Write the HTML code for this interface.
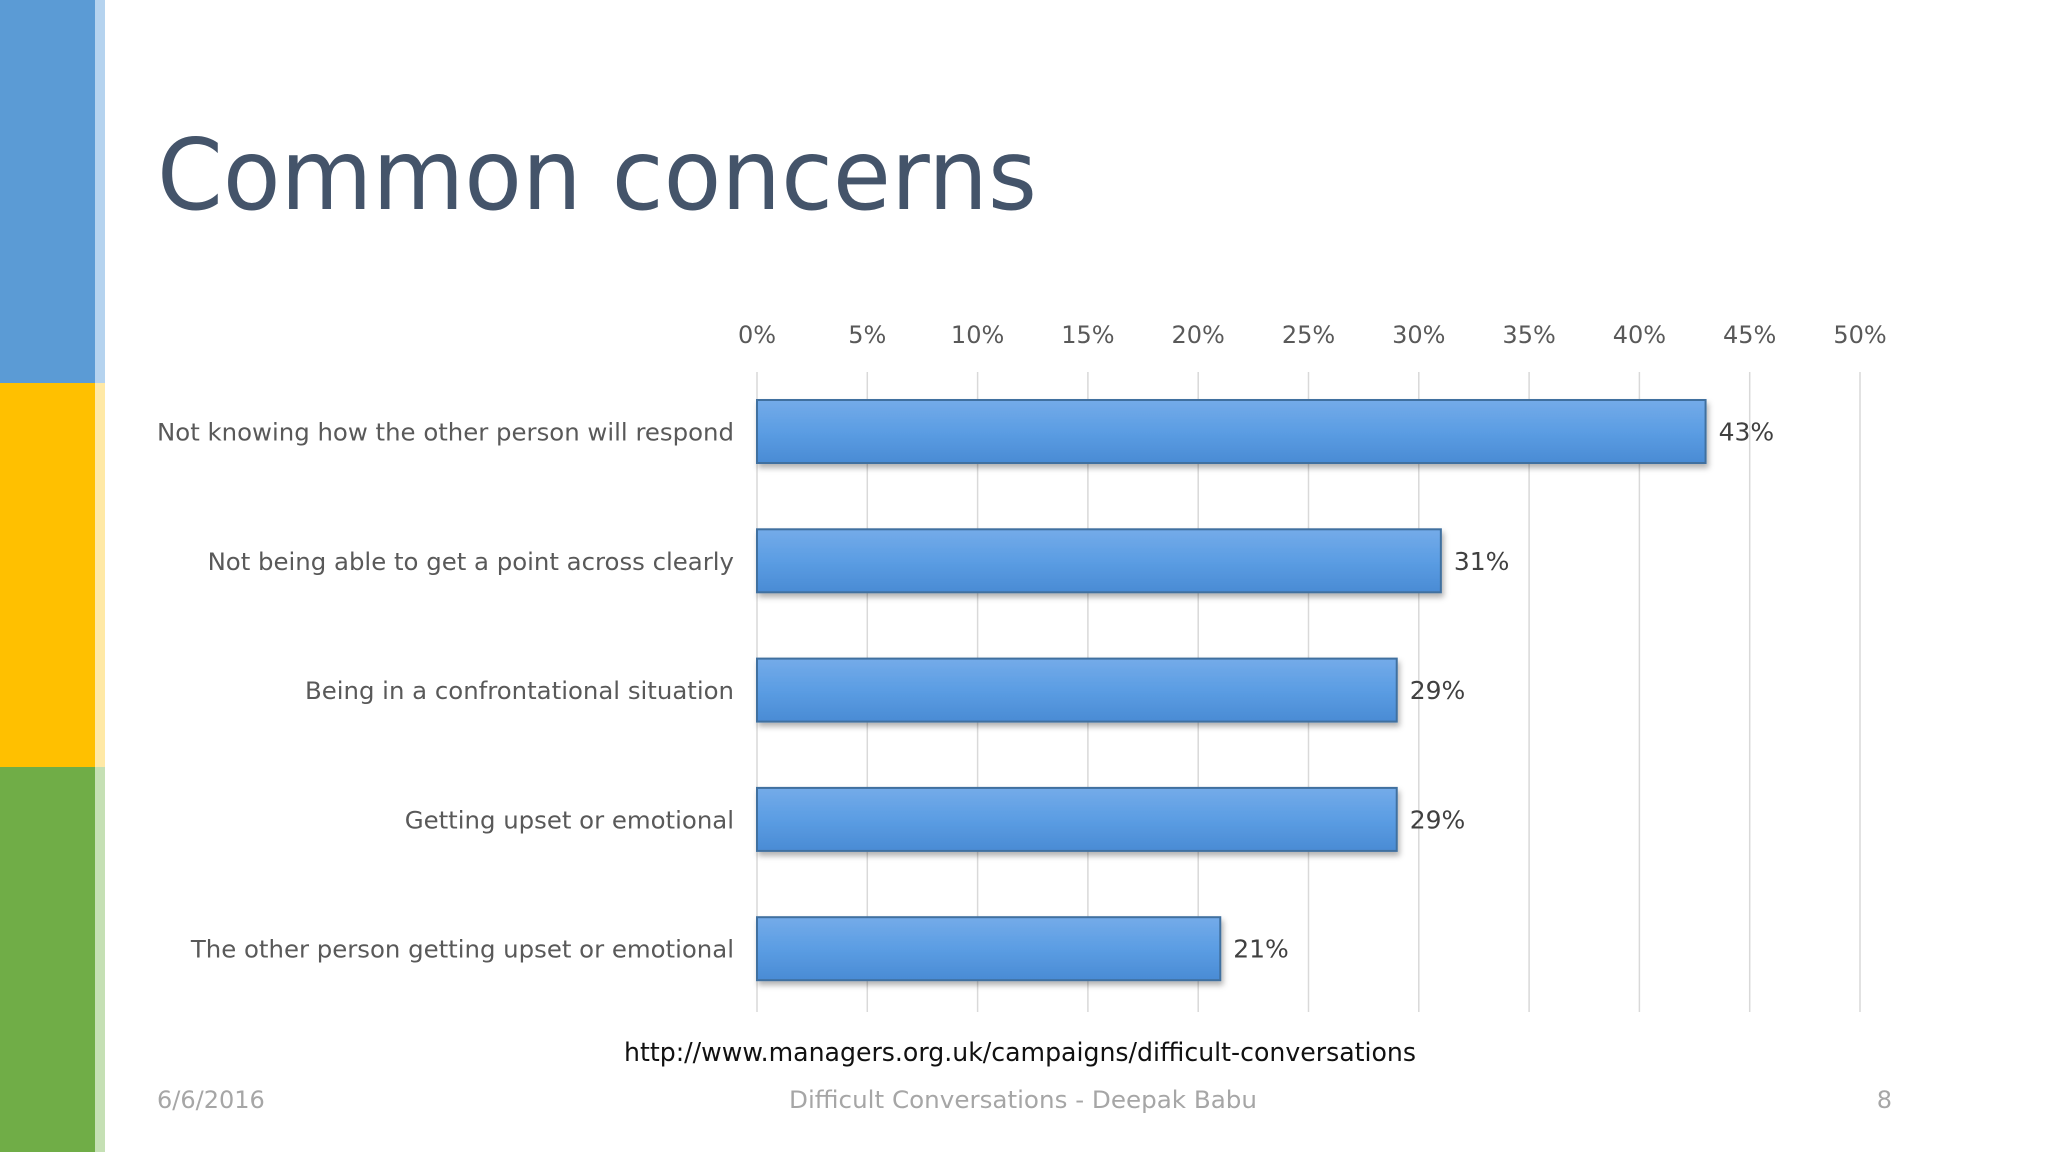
<!DOCTYPE html>
<html><head><meta charset="utf-8"><style>
html,body{margin:0;padding:0;background:#fff;}
body{width:2048px;height:1152px;overflow:hidden;position:relative;font-family:"DejaVu Sans","Liberation Sans",sans-serif;}
</style></head><body>
<svg width="2048" height="1152" xmlns="http://www.w3.org/2000/svg">
<defs>
<linearGradient id="bg" x1="0" y1="0" x2="0" y2="1">
<stop offset="0" stop-color="#74abe9"/><stop offset="0.5" stop-color="#5b9de3"/><stop offset="1" stop-color="#4a8bd4"/></linearGradient>
<filter id="sh" x="-5%" y="-20%" width="110%" height="150%"><feDropShadow dx="2" dy="4" stdDeviation="3" flood-color="#000" flood-opacity="0.3"/></filter>
</defs>
<rect x="0" y="0" width="95" height="383" fill="#5b9bd5"/>
<rect x="0" y="383" width="95" height="384" fill="#ffc000"/>
<rect x="0" y="767" width="95" height="385" fill="#70ad47"/>
<rect x="95" y="0" width="10" height="383" fill="#b5d3ef"/>
<rect x="95" y="383" width="10" height="384" fill="#ffe9a6"/>
<rect x="95" y="767" width="10" height="385" fill="#c5e0b4"/>
<text x="157" y="209" font-size="98" fill="#44546a" textLength="880" lengthAdjust="spacingAndGlyphs" font-family="'DejaVu Sans',sans-serif">Common concerns</text>
<g id="chart"></g>
<text x="1020" y="1061" font-size="26" fill="#111" text-anchor="middle" textLength="792" lengthAdjust="spacingAndGlyphs">http://www.managers.org.uk/campaigns/difficult-conversations</text>
<text x="157" y="1108" font-size="24" fill="#a6a6a6">6/6/2016</text>
<text x="1023" y="1108" font-size="24" fill="#a6a6a6" text-anchor="middle" textLength="468" lengthAdjust="spacingAndGlyphs">Difficult Conversations - Deepak Babu</text>
<text x="1892" y="1108" font-size="24" fill="#a6a6a6" text-anchor="end">8</text>
</svg>
<script>
const categories=["Not knowing how the other person will respond","Not being able to get a point across clearly","Being in a confrontational situation","Getting upset or emotional","The other person getting upset or emotional"];
const values=[43,31,29,29,21];
const ticks=[0,5,10,15,20,25,30,35,40,45,50];
const tickLabels=["0%","5%","10%","15%","20%","25%","30%","35%","40%","45%","50%"];
const NS="http://www.w3.org/2000/svg";
const g=document.getElementById('chart');
const x0=757,x1=1860,yTop=372,yBot=1012,barY0=400,pitch=129.3,barH=63;
const xs=v=>x0+(v/50)*(x1-x0);
function mk(t,a){const e=document.createElementNS(NS,t);for(const k in a)e.setAttribute(k,a[k]);g.appendChild(e);return e;}
ticks.forEach((t,i)=>{
 const l=mk('line',{x1:xs(t),x2:xs(t),y1:yTop,y2:yBot,stroke:'#d9d9d9','stroke-width':1.5});
 
 
 const tx=mk('text',{x:xs(t),y:343,'font-size':24,fill:'#595959','text-anchor':'middle'});
 tx.textContent=tickLabels[i];
 
 
});
categories.forEach((c,i)=>{
 const y=barY0+i*pitch;
 const r=mk('rect',{x:x0,y:y,width:xs(values[i])-x0,height:barH,fill:'url(#bg)',stroke:'#3f6f9f','stroke-width':2,filter:'url(#sh)'});
 
 
 const lb=mk('text',{x:734,y:y+barH/2+9,'font-size':24.4,fill:'#595959','text-anchor':'end'});
 lb.textContent=c;
 
 
 const vl=mk('text',{x:xs(values[i])+13,y:y+barH/2+9,'font-size':25,fill:'#404040'});
 vl.textContent=values[i]+'%';
 
 
});
</script>
</body></html>
